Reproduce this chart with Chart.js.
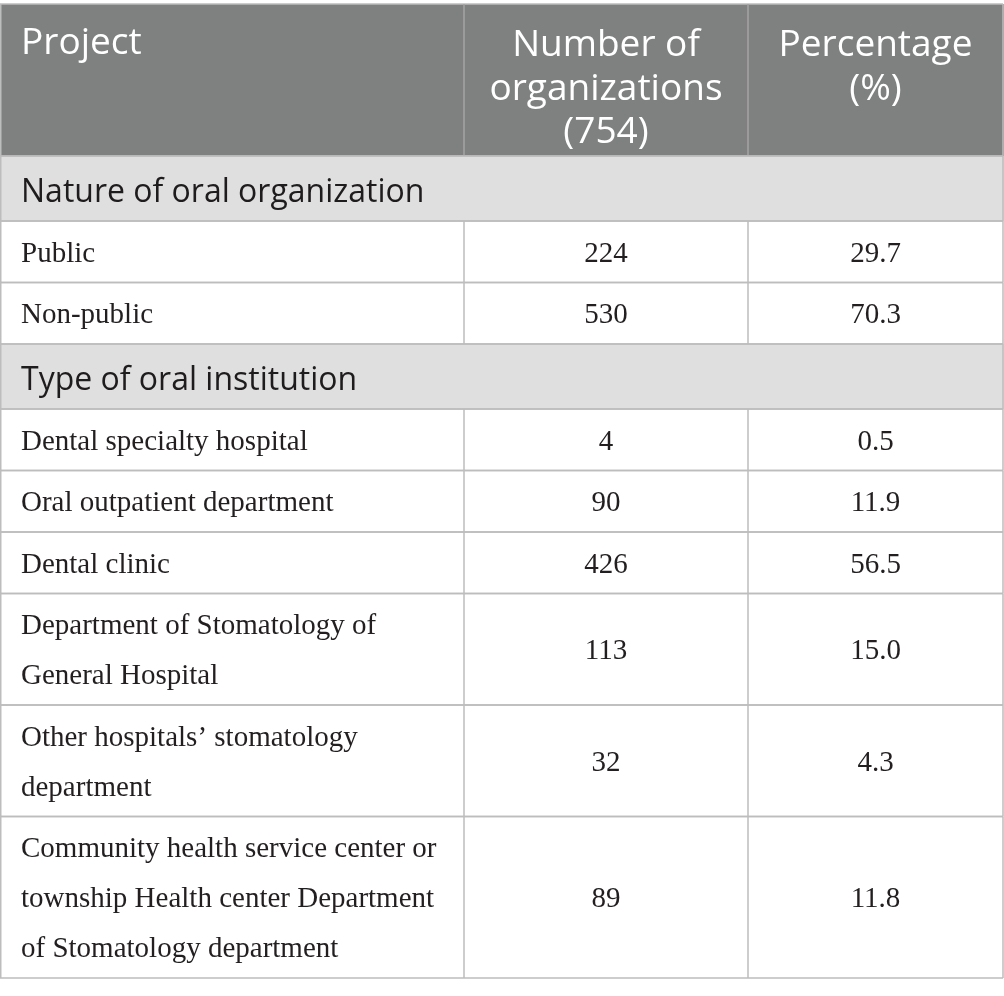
<!DOCTYPE html>
<html>
<head>
<meta charset="utf-8">
<script src="https://cdn.jsdelivr.net/npm/chart.js@4.4.1/dist/chart.umd.min.js"></script>
<style>
  html, body { margin: 0; padding: 0; background: #ffffff; }
  #tabla { display: block; }
</style>
</head>
<body>
<canvas id="tabla" width="1004" height="996"></canvas>
<script>
// Datos de la tabla
var headers = [['Project'], ['Number of', 'organizations', '(754)'], ['Percentage', '(%)']];
var sections = ['Nature of oral organization', 'Type of oral institution'];
var categories = [
  ['Public'],
  ['Non-public'],
  ['Dental specialty hospital'],
  ['Oral outpatient department'],
  ['Dental clinic'],
  ['Department of Stomatology of', 'General Hospital'],
  ['Other hospitals\u2019 stomatology', 'department'],
  ['Community health service center or', 'township Health center Department', 'of Stomatology department']
];
var categorySection = [0, 0, 1, 1, 1, 1, 1, 1];
var counts = [224, 530, 4, 90, 426, 113, 32, 89];
var percents = [29.7, 70.3, 0.5, 11.9, 56.5, 15.0, 4.3, 11.8];

// Medidas de la maqueta (en unidades de las escalas)
var colEdges = [0, 464, 748, 1003];
var tableTop = 4, headerH = 152, sectionH = 65, rowPad = 11.5, lineH = 50;

// Armo la lista de filas con sus limites
var rows = [];
var yPos = tableTop;
rows.push({kind: 'header', top: yPos, bottom: yPos + headerH});
yPos += headerH;
for (var s = 0; s < sections.length; s++) {
  rows.push({kind: 'section', label: sections[s], top: yPos, bottom: yPos + sectionH});
  yPos += sectionH;
  for (var i = 0; i < categories.length; i++) {
    if (categorySection[i] !== s) continue;
    var h = rowPad + lineH * categories[i].length;
    rows.push({kind: 'item', idx: i, top: yPos, bottom: yPos + h});
    yPos += h;
  }
}

var tablePlugin = {
  id: 'tablePlugin',
  afterDraw: function (chart) {
    var ctx = chart.ctx;
    var sx = chart.scales.x, sy = chart.scales.y;
    var X = colEdges.map(function (v) { return sx.getPixelForValue(v); });
    ctx.save();
    // Fondos
    rows.forEach(function (r) {
      var t = sy.getPixelForValue(r.top), b = sy.getPixelForValue(r.bottom);
      if (r.kind === 'header') { ctx.fillStyle = '#7f8180'; ctx.fillRect(X[0], t, X[3] - X[0] + 1, b - t); }
      if (r.kind === 'section') { ctx.fillStyle = '#e0dfe0'; ctx.fillRect(X[0], t, X[3] - X[0] + 1, b - t); }
    });
    // Lineas
    ctx.lineWidth = 1.5;
    rows.forEach(function (r) {
      var t = sy.getPixelForValue(r.top), b = sy.getPixelForValue(r.bottom);
      ctx.strokeStyle = '#bdbdbd';
      ctx.beginPath(); ctx.moveTo(X[0], t); ctx.lineTo(X[3], t); ctx.stroke();
      ctx.beginPath(); ctx.moveTo(X[0], b); ctx.lineTo(X[3], b); ctx.stroke();
      ctx.beginPath(); ctx.moveTo(X[0] + 0.75, t); ctx.lineTo(X[0] + 0.75, b); ctx.stroke();
      ctx.beginPath(); ctx.moveTo(X[3], t); ctx.lineTo(X[3], b); ctx.stroke();
      if (r.kind !== 'section') {
        ctx.strokeStyle = r.kind === 'header' ? '#a3a4a3' : '#bdbdbd';
        for (var c = 1; c < 3; c++) {
          ctx.beginPath(); ctx.moveTo(X[c], t); ctx.lineTo(X[c], b); ctx.stroke();
        }
      }
    });
    // Textos
    rows.forEach(function (r) {
      var t = sy.getPixelForValue(r.top), b = sy.getPixelForValue(r.bottom);
      var mid = (t + b) / 2;
      ctx.textBaseline = 'alphabetic';
      if (r.kind === 'header') {
        ctx.fillStyle = '#ffffff';
        ctx.font = '37px "Open Sans"';
        ctx.textAlign = 'left';
        ctx.fillText(headers[0][0], X[0] + 21, t + 50);
        ctx.textAlign = 'center';
        for (var c = 1; c < 3; c++) {
          for (var l = 0; l < headers[c].length; l++) {
            ctx.fillText(headers[c][l], (X[c] + X[c + 1]) / 2, t + 52 + l * 43.5);
          }
        }
      } else if (r.kind === 'section') {
        ctx.fillStyle = '#1f1c1d';
        ctx.font = '32px "Open Sans"';
        ctx.textAlign = 'left';
        ctx.fillText(r.label, X[0] + 21, mid + 13);
      } else {
        var lines = categories[r.idx];
        ctx.fillStyle = '#231f20';
        ctx.font = '29px "Liberation Serif"';
        ctx.textAlign = 'left';
        for (var k = 0; k < lines.length; k++) {
          ctx.fillText(lines[k], X[0] + 21, mid + 10 - (lines.length - 1) * lineH / 2 + k * lineH);
        }
        ctx.textAlign = 'center';
        ctx.fillText(String(counts[r.idx]), (X[1] + X[2]) / 2, mid + 10);
        ctx.fillText(percents[r.idx].toFixed(1), (X[2] + X[3]) / 2, mid + 10);
      }
    });
    ctx.restore();
  }
};

var ctxTabla = document.getElementById('tabla').getContext('2d');
var tabla = new Chart(ctxTabla, {
  type: 'scatter',
  data: { datasets: [{ data: [] }] },
  options: {
    responsive: false,
    animation: false,
    layout: { padding: 0 },
    plugins: { legend: { display: false }, tooltip: { enabled: false } },
    scales: {
      x: { type: 'linear', min: 0, max: 1004, display: false },
      y: { type: 'linear', min: 0, max: 996, reverse: true, display: false }
    }
  },
  plugins: [tablePlugin]
});
</script>
</body>
</html>
